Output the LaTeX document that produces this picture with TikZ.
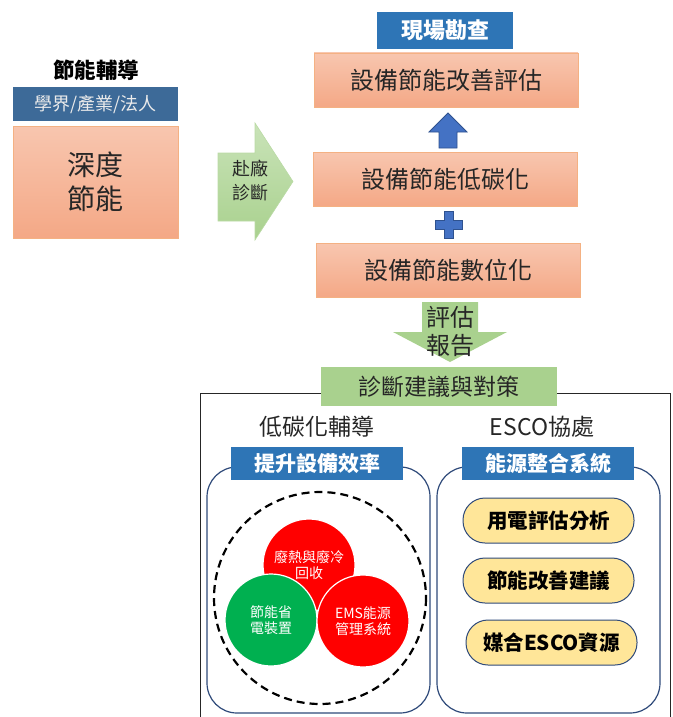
\documentclass[tikz,border=0pt]{standalone}
\usepackage{fontspec}
\setmainfont{Noto Sans CJK TC}
\definecolor{salT}{HTML}{F8C6AF}
\definecolor{salB}{HTML}{F4A886}
\definecolor{salD}{HTML}{F4B183}
\definecolor{grn}{HTML}{A9D18E}
\definecolor{grnL}{HTML}{C9E3B8}
\definecolor{hblue}{HTML}{2E75B6}
\definecolor{sblue}{HTML}{3D6A98}
\definecolor{ablue}{HTML}{4472C4}
\definecolor{ablueD}{HTML}{2F528F}
\definecolor{navy}{HTML}{2F4A7A}
\definecolor{yel}{HTML}{FFE699}
\definecolor{cgreen}{HTML}{00B050}
\definecolor{txt}{HTML}{262626}
\newcommand\fsz[2]{\fontsize{#1}{#2}\selectfont}
\begin{document}
\begin{tikzpicture}[x=1pt,y=-1pt,
  salbox/.style={draw=salD, line width=0.8pt, top color=salT, bottom color=salB, minimum width=264, minimum height=54, inner sep=0, text=txt, font=\fsz{24}{30}},
  hdr/.style={fill=hblue, text=white, inner sep=0, font=\bfseries\fsz{21}{26}},
  blockarrow/.style={fill=ablue, draw=ablueD, line width=0.8pt},
  rbox/.style={draw=navy, line width=1.2pt, rounded corners=30, fill=white, inner sep=0},
  pill/.style={draw=navy, line width=1pt, fill=yel, rounded corners=22, minimum width=171, minimum height=45, inner sep=0, text=black, font=\bfseries\fsz{20.5}{24}},
  ball/.style={circle, draw=white, line width=1.2pt, minimum size=92, inner sep=0, text=white, align=center, font=\fsz{14}{16.5}},
  plain/.style={inner sep=0, text=txt}
]
\useasboundingbox (0,0) rectangle (672,717);
\clip (0,0) rectangle (672,717);

% left column
\node[plain, text=black, font=\bfseries\fsz{21.5}{26}] (t1) at (96,70) {節能輔導};
\node[fill=sblue, text=white!92!black, minimum width=165, minimum height=34, inner sep=0, font=\fsz{18}{22}] (b1) at (95.5,104) {學界/產業/法人};
\node[salbox, minimum width=165, minimum height=112, align=center, font=\fsz{28}{34}] (deep) at (95.5,182) {深度\\節能};

% right arrow
\path[top color=grnL, bottom color=grn, draw=grn!80!white, line width=0.6pt]
  (218,153) -- (255,153) -- (255,123) -- (293,181.5) -- (255,240) -- (255,221) -- (218,221) -- cycle;
\node[plain, align=center, font=\fsz{18}{24}] (visit) at (250,180) {赴廠\\診斷};

% top column
\node[hdr, minimum width=136, minimum height=37, font=\bfseries\fsz{22}{26}] (site) at (445,30.5) {現場勘查};
\node[salbox] (s1) at (446,80) {設備節能改善評估};
\draw[blockarrow] (448,113) -- (467,132) -- (457,132) -- (457,148) -- (439,148) -- (439,132) -- (429,132) -- cycle;
\node[salbox] (s2) at (445,179) {設備節能低碳化};
\draw[blockarrow] (444,211) -- (453,211) -- (453,220) -- (462,220) -- (462,229) -- (453,229) -- (453,238) -- (444,238) -- (444,229) -- (435,229) -- (435,220) -- (444,220) -- cycle;
\node[salbox] (s3) at (448,270.5) {設備節能數位化};

% down arrow
\fill[grn] (422,302) -- (478,302) -- (478,332) -- (507,332) -- (450,362) -- (393,332) -- (422,332) -- cycle;
\node[plain, align=center, font=\fsz{24}{28}] (rep) at (450,331) {評估\\報告};

% outer frame
\draw[black!85, line width=1pt] (200,393) rectangle (670,760);
\node[fill=grn, minimum width=236, minimum height=39, inner sep=0, text=txt, font=\fsz{23}{28}] (plan) at (439,386.5) {診斷建議與對策};

\node[plain, font=\fsz{23}{28}] (lc) at (317,427) {低碳化輔導};
\node[plain, font=\fsz{23}{28}] (esco) at (542,427) {ESCO協處};

% rounded boxes
\node[rbox, minimum width=223, minimum height=246] (lbox) at (318.5,590) {};
\node[rbox, minimum width=223, minimum height=246] (rboxn) at (548.5,590) {};
\node[hdr, minimum width=172, minimum height=33] (h1) at (317,463.5) {提升設備效率};
\node[hdr, minimum width=172, minimum height=33] (h2) at (548,463.5) {能源整合系統};

% circles
\draw[black, line width=2.2pt, dash pattern=on 8pt off 5pt] (320,598) circle (106);
\node[ball, fill=red] (c1) at (309,565) {廢熱與廢冷\\回收};
\node[ball, fill=cgreen] (c2) at (271,620) {節能省\\電裝置};
\node[ball, fill=red] (c3) at (363,621) {EMS能源\\管理系統};

% pills
\node[pill] (p1) at (548.5,520.5) {用電評估分析};
\node[pill] (p2) at (548.5,580.5) {節能改善建議};
\node[pill] (p3) at (551.5,642.5) {媒合ESCO資源};
\end{tikzpicture}
\end{document}
